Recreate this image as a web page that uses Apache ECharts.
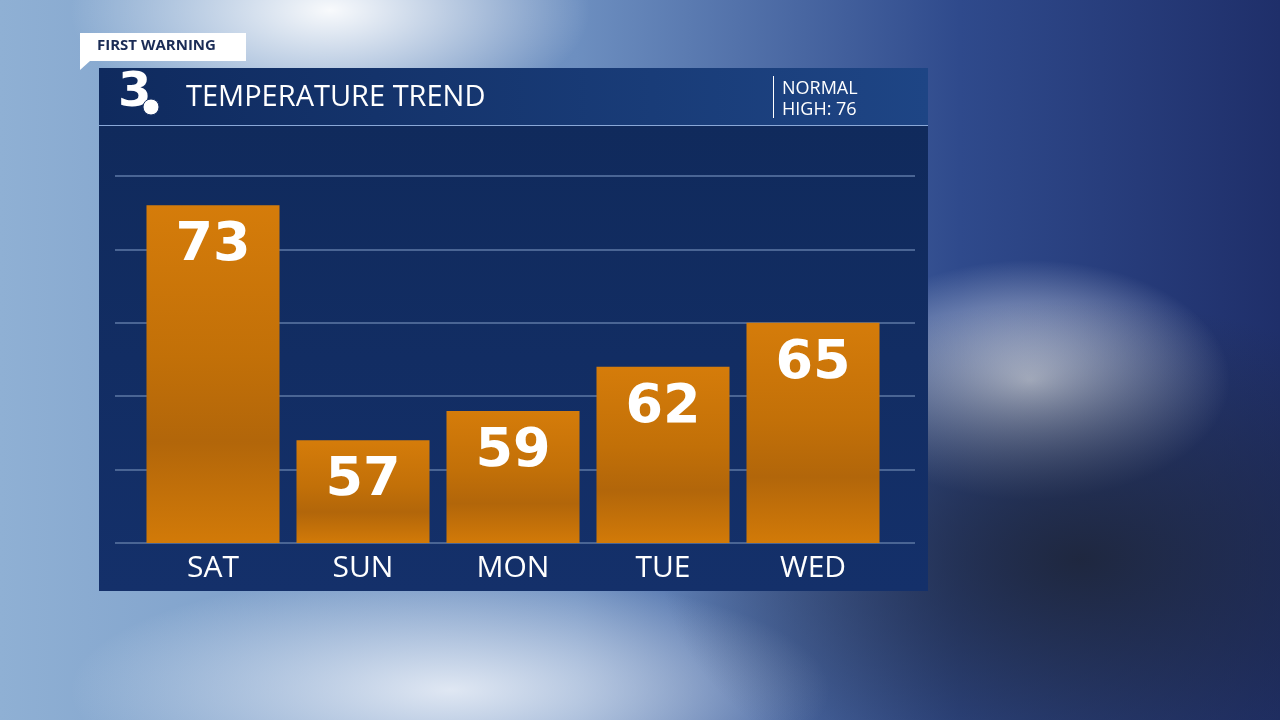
<!DOCTYPE html>
<html><head><meta charset="utf-8">
<script src="https://cdn.jsdelivr.net/npm/echarts@6/dist/echarts.min.js"></script>
<style>
html,body{margin:0;padding:0;width:1280px;height:720px;overflow:hidden}
#bg{position:absolute;left:0;top:0;width:1280px;height:720px;
background:
 radial-gradient(ellipse 260px 120px at 330px 10px, rgba(255,255,255,0.95), rgba(255,255,255,0) 100%),
 radial-gradient(ellipse 420px 260px at 1080px 560px, rgba(30,38,60,0.95), rgba(30,38,60,0) 100%),
 radial-gradient(ellipse 200px 120px at 1030px 380px, rgba(230,235,245,0.9), rgba(230,235,245,0) 100%),
 radial-gradient(ellipse 380px 120px at 450px 690px, rgba(235,240,248,0.9), rgba(235,240,248,0) 100%),
 linear-gradient(90deg,#8fb0d4 0%,#6d8fc0 45%,#2f4a8c 75%,#1f2f6a 100%);}
#chart{position:absolute;left:0;top:0;width:1280px;height:720px}
</style></head>
<body>
<div id="bg"></div>
<div id="chart"></div>
<script>
// temperature trend
var days=["SAT","SUN","MON","TUE","WED"];
var highs=[73,57,59,62,65];
var normalHigh=76;

var chart=echarts.init(document.getElementById('chart'));
var option={
	backgroundColor:'transparent',
	graphic:[
		{type:'rect',shape:{x:99,y:126,width:829,height:465},style:{fill:new echarts.graphic.LinearGradient(0,0,0,1,[{offset:0,color:'#102a5c'},{offset:1,color:'#14306a'}])},z:-10},
		{type:'rect',shape:{x:99,y:68,width:829,height:58},style:{fill:new echarts.graphic.LinearGradient(0,0,1,0,[{offset:0,color:'#0f2a5e'},{offset:1,color:'#1e4585'}])},z:-10},
		{type:'rect',shape:{x:99,y:125,width:829,height:1},style:{fill:'#8aa8d8'},z:-9},
		{type:'rect',shape:{x:80,y:33,width:166,height:28},style:{fill:'#ffffff'},z:-9},
		{type:'polygon',shape:{points:[[80,61],[90,61],[80,70]]},style:{fill:'#ffffff'},z:-9},
		{type:'text',left:97,top:38,style:{text:'FIRST WARNING',fill:'#1a2b55',font:'bold 15px "Open Sans"'}},
		{type:'text',left:118,top:70,style:{text:'3',fill:'#ffffff',font:'900 48px "DejaVu Sans"'}},
		{type:'circle',shape:{cx:151,cy:107,r:8},style:{fill:'#ffffff',stroke:'#1a3468',lineWidth:1}},
		{type:'text',left:186,top:83,style:{text:'TEMPERATURE TREND',fill:'#ffffff',font:'29px "Open Sans"'}},
		{type:'rect',shape:{x:773,y:76,width:1,height:42},style:{fill:'#ffffff'}},
		{type:'text',left:782,top:78,style:{text:'NORMAL\nHIGH: '+normalHigh,fill:'#ffffff',font:'18px "Open Sans"',lineHeight:21}}
	],
	grid:[
		{left:115,right:365,top:176,bottom:177,containLabel:false},
		{left:138,right:392,top:176,bottom:177,containLabel:false}
	],
	xAxis:[
		{gridIndex:0,type:'value',show:false},
		{gridIndex:1,type:'category',data:days,axisLine:{show:false},axisTick:{show:false},
			axisLabel:{color:'#ffffff',fontSize:30,fontFamily:'Open Sans',margin:10}}
	],
	yAxis:[
		{gridIndex:0,type:'value',min:50,max:75,interval:5,axisLabel:{show:false},axisLine:{show:false},axisTick:{show:false},
			splitLine:{show:true,lineStyle:{color:'#4a6594',width:2}}},
		{gridIndex:1,type:'value',min:50,max:75,interval:5,axisLabel:{show:false},axisLine:{show:false},axisTick:{show:false},
			splitLine:{show:false}}
	],
	series:[{
		type:'bar',xAxisIndex:1,yAxisIndex:1,data:highs,barWidth:133,
		itemStyle:{color:new echarts.graphic.LinearGradient(0,0,0,1,[
			{offset:0,color:'#d57c0a'},{offset:0.45,color:'#c27008'},{offset:0.7,color:'#b2660a'},{offset:1,color:'#d27a08'}])},
		label:{show:true,position:'insideTop',distance:14,color:'#ffffff',fontSize:54,fontWeight:'bold',fontFamily:'DejaVu Sans'}
	}]
};
chart.setOption(option);
</script>
</body></html>
